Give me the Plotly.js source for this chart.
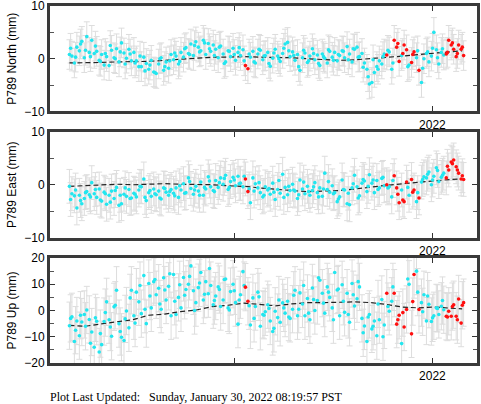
<!DOCTYPE html>
<html>
<head>
<meta charset="utf-8">
<script src="https://cdn.plot.ly/plotly-3.0.1.min.js"></script>
<style>html,body{margin:0;padding:0;background:#fff;}#chart{width:481px;height:404px;}</style>
</head>
<body>
<div id="chart"></div>
<script>
// Epochs (decimal year), first set
const t = [2020.170,2020.1825,2020.195,2020.2075,2020.220,2020.2325,2020.245,2020.2575,2020.270,2020.2825,
2020.295,2020.3075,2020.320,2020.3325,2020.345,2020.3575,2020.370,2020.3825,2020.395,2020.4075,
2020.420,2020.4325,2020.445,2020.4575,2020.470,2020.4825,2020.495,2020.5075,2020.520,2020.5325,
2020.545,2020.5575,2020.570,2020.5825,2020.595,2020.6075,2020.620,2020.6325,2020.645,2020.6575,
2020.670,2020.6825,2020.695,2020.7075,2020.720,2020.7325,2020.745,2020.7575,2020.770,2020.7825,
2020.795,2020.8075,2020.820,2020.8325,2020.845,2020.8575,2020.870,2020.8825,2020.895,2020.9075,
2020.920,2020.9325,2020.945,2020.9575,2020.970,2020.9825,2020.995,2021.0075,2021.020,2021.0325,
2021.045,2021.0575,2021.070,2021.0825,2021.095,2021.1075,2021.120,2021.1325,2021.145,2021.1575,
2021.170,2021.1825,2021.195,2021.2075,2021.220,2021.2325,2021.245,2021.2575,2021.270,2021.2825,
2021.295,2021.3075,2021.320,2021.3325,2021.345,2021.3575,2021.370,2021.3825,2021.395,2021.4075,
2021.420,2021.4325,2021.445,2021.4575,2021.470,2021.4825,2021.495,2021.5075,2021.520,2021.5325,
2021.545,2021.5575,2021.570,2021.5825,2021.595,2021.6075,2021.620,2021.6325,2021.645,2021.6575,
2021.670,2021.6825,2021.695,2021.7075,2021.720,2021.7325,2021.745,2021.7575,2021.770,2021.7825,
2021.795,2021.8075,2021.820,2021.8325,2021.845,2021.8575,2021.870,2021.8825,2021.895,2021.9075,
2021.920,2021.9325,2021.945,2021.9575,2021.970,2021.9825,2021.995,2022.0075,2022.020,2022.0325,
2022.045,2022.0575,2022.070,2022.0825,2022.095,2022.1075,2022.120,2022.1325,2022.145,2022.1575];

const north = [0.8,0.5,-0.8,2.2,1.5,3.3,0.2,4.2,1.2,3.5,1.0,
1.4,-0.3,0.8,-1.2,0.4,-1.3,1.6,0.2,1.9,-0.6,3.0,1.1,0.1,1.8,-0.4,1.2,
-0.4,-1.5,-1.5,0.3,-0.9,-2.0,-0.3,-2.5,-2.8,-1.0,0.2,-2.2,-0.6,-1.8,0.8,-0.2,
0.5,-1.0,1.2,0.3,2.1,1.0,2.8,0.6,3.2,2.2,1.5,3.5,0.8,2.9,1.4,2.6,
1.8,0.2,2.4,0.9,-0.6,1.5,0.4,2.0,-0.3,1.2,0.6,1.7,
-1.3,-1.9,
0.3,1.4,-0.8,0.9,1.6,-0.2,0.6,1.2,-1.4,0.1,1.8,0.5,-0.5,1.0,2.8,3.1,0.4,1.3,
-0.3,0.8,-2.2,0.2,1.1,-0.7,0.5,1.9,-0.2,0.7,-1.3,0.9,0.1,-0.8,1.4,0.3,
1.2,-0.4,0.6,1.5,0.2,2.3,0.9,-0.6,1.8,2.2,0.4,1.0,
-0.8,-2.0,-4.8,-4.5,-2.6,-1.5,-0.4,-1.0,0.9,
0.7,
1.3,-2.0,3.5,2.2,-0.5,0.6,2.6,1.7,-1.2,-0.7,1.3,0.2,-2.2,
-4.5,0.0,1.0,-0.6,0.5,5.0,1.7,-1.0,1.2,
0.7,0.9,3.5,2.6,1.8,0.4,2.6,1.8,0.6];

const east = [-0.3,-1.7,-2.1,-4.4,-2.0,-3.6,-2.6,-1.3,-1.9,0.4,-1.7,
-2.4,-0.8,-3.1,-1.4,-3.7,-2.0,-1.2,-2.6,-0.5,-3.9,-3.6,-1.8,-2.2,-0.9,-2.5,-1.6,
-2.3,-1.0,-0.4,1.1,-3.0,-1.5,-2.2,-0.8,-1.9,-1.2,-2.7,-0.6,-1.4,-2.0,-0.9,-1.6,
-0.6,-2.4,-1.0,0.2,-1.5,1.3,-0.7,-1.8,-0.3,-1.2,0.5,-2.0,-0.8,1.5,-0.4,-1.1,
0.8,-0.5,1.3,0.1,1.8,-0.9,0.6,1.4,-0.2,1.6,0.3,-0.4,
1.1,-1.3,
-3.4,1.3,0.2,-0.6,-1.5,-2.3,-0.4,-1.0,-1.8,0.3,-2.8,-0.9,-1.6,2.0,-0.5,-1.9,-1.1,0.1,
-1.2,-2.6,0.9,-0.8,-1.7,-0.3,-2.0,-1.1,0.4,-1.5,-0.6,-2.2,2.2,-0.9,-1.4,-0.2,
-1.5,-3.2,-2.3,0.9,-1.0,-3.6,-3.8,-0.6,1.8,-0.4,-2.1,0.3,
0.7,-1.3,1.9,0.3,-1.5,0.8,-0.6,1.2,-0.2,
0.0,
-0.4,-2.3,1.7,-0.6,-3.4,-1.0,-3.2,0.5,-2.0,1.0,-1.0,-3.2,-2.5,
0.5,1.5,1.3,2.4,0.0,1.6,3.2,0.6,1.4,
2.2,1.3,2.8,4.3,4.7,3.4,2.2,1.1,1.0];

const up = [-5.8,-2.4,-11.8,-4.0,-9.6,-4.4,-1.5,0.2,-3.4,-8.2,-14.0,
-4.1,-15.8,-13.0,-4.2,3.3,-3.5,-9.8,1.4,7.7,-5.0,-10.2,-11.4,-0.2,-6.6,7.7,-2.0,
7.0,3.3,-1.2,13.3,-5.0,10.3,1.0,11.0,6.0,8.5,0.5,12.5,4.0,9.2,-2.0,13.7,
-1.5,5.0,1.0,12.6,8.0,10.0,17.0,7.5,3.0,8.7,14.5,4.0,11.0,6.4,9.5,2.2,
5.5,9.0,1.5,4.0,12.0,1.0,7.2,10.0,3.0,-5.2,6.0,14.8,
8.9,3.5,
-5.5,4.8,1.5,7.0,-6.0,-1.5,-0.5,2.2,-4.0,-8.0,-0.3,-2.7,-4.5,2.9,-1.0,3.5,-3.0,0.5,
7.7,-2.0,6.7,2.5,-2.0,4.6,-3.5,8.6,0.0,3.8,11.5,6.6,-1.0,9.0,5.0,1.0,
14.5,7.8,-2.0,9.8,-0.7,6.6,-4.5,10.3,1.7,4.5,9.0,-3.0,
-5.9,-11.8,-1.5,-7.0,-4.0,-9.6,-3.5,4.2,-5.5,
6.6,
-0.3,3.5,6.6,-5.2,-1.8,-12.6,-6.3,0.4,10.0,-8.9,13.7,15.0,0.4,
3.0,6.0,-4.0,2.4,-4.2,-2.0,1.0,-1.5,1.6,
0.3,-2.2,-0.3,-2.2,2.2,-2.2,4.4,-4.8,3.0];

// Rapid (red) solutions in the first set
const rapidIdx = [71,72,128,131,132,133,135,136,138,139,141,152,153,154,155,156,157,158,159];

// Second set of epochs (interleaved days)
const t2 = [2020.176,2020.201,2020.226,2020.251,2020.276,2020.301,2020.326,2020.351,2020.376,2020.401,
2020.426,2020.451,2020.476,2020.501,2020.526,2020.551,2020.576,2020.601,2020.626,2020.651,
2020.676,2020.701,2020.726,2020.751,2020.776,2020.801,2020.826,2020.851,2020.876,2020.901,
2020.926,2020.951,2020.976,2021.001,2021.026,2021.051,2021.076,2021.101,2021.126,2021.151,
2021.176,2021.201,2021.226,2021.251,2021.276,2021.301,2021.326,2021.351,2021.376,2021.401,
2021.426,2021.451,2021.476,2021.501,2021.526,2021.551,2021.576,2021.601,2021.626,2021.651,
2021.676,2021.701,2021.726,2021.751,2021.776,2021.801,2021.826,2021.851,2021.876,2021.901,
2021.926,2021.951,2021.976,2022.001,2022.026,2022.051,2022.076,2022.101,2022.126,2022.151];

const north2 = [2.0,0.3,2.8,1.6,0.4,2.4,-0.5,1.0,2.5,0.0,
1.3,-1.0,0.9,-0.8,0.5,-2.3,-1.2,-2.6,0.0,-1.5,
-0.4,1.1,-0.5,1.9,0.8,2.5,1.3,3.0,1.9,0.6,
2.2,-0.9,1.4,0.8,2.1,-0.4,0.9,-0.6,1.8,0.5,
-0.9,1.1,0.0,2.0,1.5,0.6,-1.5,1.6,-0.4,1.0,
-0.9,0.4,1.7,-0.3,0.8,1.4,-0.2,1.9,0.3,-1.6,
-3.4,-0.2,-2.0,0.4,1.6,-0.8,2.9,1.0,-1.5,0.8,
1.5,-1.8,1.3,2.0,0.2,1.9,1.2,3.0,1.0,2.2];

const east2 = [-2.8,-1.0,-3.0,-1.5,-2.3,-0.9,-2.9,-1.7,-3.3,-1.1,
-2.0,-0.6,-2.6,-1.8,-0.3,-2.4,-1.1,-1.7,-2.5,-0.7,
-1.3,-2.1,-0.2,-1.6,0.6,-1.0,-2.0,-0.5,0.7,-1.3,
0.4,1.2,-0.5,0.9,0.2,1.6,-0.8,-1.2,0.4,-2.0,
-0.7,-1.4,0.8,-2.4,-0.3,-1.0,-1.9,0.5,-1.3,-0.4,
-2.3,-0.8,0.6,-1.7,-2.7,-0.9,-1.6,0.2,-2.5,1.0,
-0.3,0.9,-0.9,1.4,-0.6,0.8,-1.8,-2.9,-0.5,-1.4,
-1.5,1.0,2.0,0.9,2.7,1.8,3.5,4.0,2.8,1.7];

const up2 = [-3.0,-7.5,-1.8,-6.0,-12.5,-2.8,-8.8,-0.8,-6.3,2.0,
-8.0,-3.2,4.8,-4.8,9.5,0.5,5.5,11.8,2.5,7.8,
14.0,3.5,9.8,5.8,13.0,0.0,10.5,6.2,16.0,3.8,
8.0,11.8,0.2,7.5,4.0,9.5,1.8,-3.0,5.2,-1.8,
0.8,-6.8,4.0,1.0,-2.5,5.8,0.5,9.5,-1.0,4.2,
12.5,2.8,7.0,-3.5,8.2,3.5,-1.5,6.0,11.0,-8.5,
-2.5,-6.0,2.5,-10.0,1.5,9.0,-3.5,-0.8,12.0,3.4,
7.0,-0.5,5.5,-2.8,0.8,3.8,-2.5,1.5,-3.5,2.0];

const rapidIdx2 = [66,67,69,76,77,78,79];

// Uncertainties (mm)
const sigN = 2.8, sigE = 3.2, sigU = 9.0;

// Model (dashed) epochs and values
const tm = [2020.17,2020.25,2020.33,2020.41,2020.49,2020.57,2020.65,2020.73,2020.81,2020.89,2020.97,
2021.05,2021.13,2021.21,2021.29,2021.37,2021.45,2021.53,2021.61,2021.69,2021.77,2021.85,2021.93,
2022.01,2022.09,2022.15];
const modelN = [-0.8,-0.8,-0.7,-0.6,-0.6,-0.5,-0.3,-0.1,0.1,0.3,0.3,0.4,0.3,0.3,0.2,0.0,-0.2,-0.3,-0.2,0.0,0.2,0.5,0.8,1.1,1.3,1.5];
const modelE = [-0.3,-0.2,0.0,0.1,0.0,0.1,0.2,0.1,0.1,0.0,-0.2,-0.3,-0.6,-0.9,-1.1,-1.3,-1.2,-1.1,-0.8,-0.4,-0.1,0.2,0.5,0.8,1.0,1.1];
const modelU = [-5.7,-6.0,-5.1,-4.4,-3.5,-1.8,-1.4,-0.4,0.2,1.5,2.0,2.8,2.4,1.8,2.5,3.0,3.0,3.2,3.3,3.0,2.3,1.3,1.0,1.3,0.8,0.6];

const yTitles = ['P789 North (mm)','P789 East (mm)','P789 Up (mm)'];
const xTickVals = [2021, 2022];
const xTickText = ['', '2022'];

const comps = [
  {y: north, y2: north2, sig: sigN, model: modelN, range: [-10,10]},
  {y: east, y2: east2, sig: sigE, model: modelE, range: [-10,10]},
  {y: up, y2: up2, sig: sigU, model: modelU, range: [-20,20]}
];

const rapidSet = new Set(rapidIdx);
const rapidSet2 = new Set(rapidIdx2);
const traces = [];
comps.forEach((c, k) => {
  const xa = k === 0 ? 'x' : 'x' + (k + 1);
  const ya = k === 0 ? 'y' : 'y' + (k + 1);
  const ax = t.concat(t2), ay = c.y.concat(c.y2);
  traces.push({x: ax, y: ay, xaxis: xa, yaxis: ya, type: 'scatter', mode: 'markers',
    marker: {size: 1, color: 'rgba(0,0,0,0)'},
    error_y: {type: 'constant', value: c.sig, color: '#dddddd', thickness: 1, width: 3},
    hoverinfo: 'skip', showlegend: false});
  traces.push({x: tm, y: c.model, xaxis: xa, yaxis: ya, type: 'scatter', mode: 'lines',
    line: {color: '#222', width: 1.2, dash: '5px,3px'}, showlegend: false});
  const cx = [], cy = [], rx = [], ry = [];
  t.forEach((tv, i) => { if (rapidSet.has(i)) { rx.push(tv); ry.push(c.y[i]); } else { cx.push(tv); cy.push(c.y[i]); } });
  t2.forEach((tv, i) => { if (rapidSet2.has(i)) { rx.push(tv); ry.push(c.y2[i]); } else { cx.push(tv); cy.push(c.y2[i]); } });
  traces.push({x: cx, y: cy, xaxis: xa, yaxis: ya, type: 'scatter', mode: 'markers',
    marker: {size: 3.6, color: '#22e6ef'}, showlegend: false});
  traces.push({x: rx, y: ry, xaxis: xa, yaxis: ya, type: 'scatter', mode: 'markers',
    marker: {size: 3.6, color: '#ff1010'}, showlegend: false});
});

const domains = [[0.7045, 1.0], [0.3515, 0.6471], [0, 0.2941]];
const layout = {
  width: 481, height: 404,
  margin: {l: 50, r: 4, t: 6, b: 41},
  paper_bgcolor: '#fff', plot_bgcolor: '#fff',
  font: {family: 'Liberation Sans, Arial, sans-serif', size: 12, color: '#000'},
  showlegend: false,
  annotations: [{
    xref: 'paper', yref: 'paper', x: -0.004, y: -0.094, xanchor: 'left', yanchor: 'middle',
    showarrow: false, text: 'Plot Last Updated:&nbsp;&nbsp; Sunday, January 30, 2022 08:19:57 PST',
    font: {family: 'Liberation Serif, Times New Roman, serif', size: 12, color: '#000'}
  }]
};
comps.forEach((c, k) => {
  const sfx = k === 0 ? '' : String(k + 1);
  layout['xaxis' + sfx] = {
    range: [2020.072, 2022.225], anchor: 'y' + sfx, domain: [0, 1],
    tickmode: 'array', tickvals: xTickVals, ticktext: xTickText,
    ticks: 'inside', ticklen: 5, tickwidth: 1, tickcolor: '#333',
    showline: true, linecolor: '#3a3a3a', linewidth: 3, mirror: 'allticks',
    showgrid: false, zeroline: false, tickfont: {size: 12}
  };
  layout['yaxis' + sfx] = {
    range: c.range, anchor: 'x' + sfx, domain: domains[k],
    tickmode: 'linear', tick0: 0, dtick: 10,
    ticks: 'inside', ticklen: 5, tickwidth: 1, tickcolor: '#333',
    minor: {dtick: 5, tick0: 0, ticks: 'inside', ticklen: 4, tickwidth: 1, tickcolor: '#555', showgrid: false},
    showline: true, linecolor: '#3a3a3a', linewidth: 3, mirror: 'allticks',
    showgrid: false, zeroline: false, tickfont: {size: 12}, ticklabeloverflow: 'allow',
    title: {text: yTitles[k], font: {size: 12}, standoff: 6}
  };
});

Plotly.newPlot('chart', traces, layout, {staticPlot: true, displayModeBar: false});
</script>
</body>
</html>
